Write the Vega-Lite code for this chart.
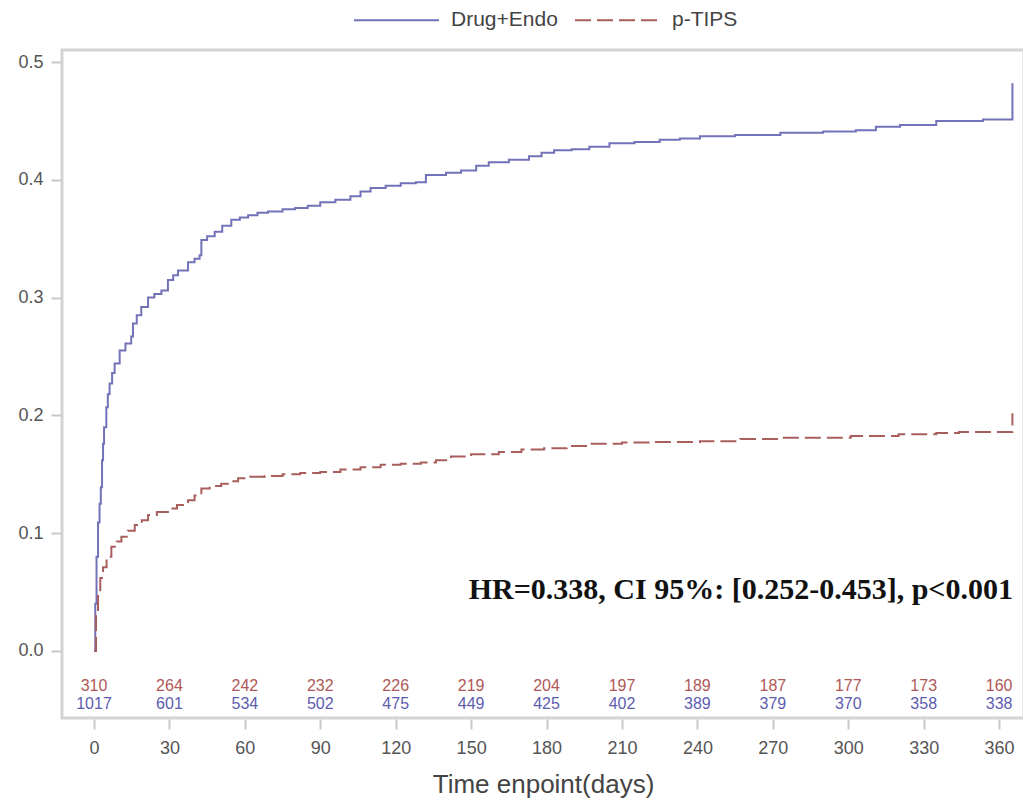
{
  "$schema": "https://vega.github.io/schema/vega-lite/v6.json",
  "width": 962,
  "height": 668,
  "autosize": {"type": "none"},
  "padding": {"left": 62, "top": 50, "right": 0, "bottom": 82},
  "background": "white",
  "config": {"view": {"stroke": "#d4d4d4", "strokeWidth": 3}, "font": "Liberation Sans"},
  "datasets": {
    "curves": [
      {"group": "Drug+Endo", "day": 0, "ci": 0},
      {"group": "Drug+Endo", "day": 0.5, "ci": 0.04},
      {"group": "Drug+Endo", "day": 1, "ci": 0.08},
      {"group": "Drug+Endo", "day": 1.6, "ci": 0.109},
      {"group": "Drug+Endo", "day": 2.2, "ci": 0.125},
      {"group": "Drug+Endo", "day": 2.7, "ci": 0.139},
      {"group": "Drug+Endo", "day": 3.2, "ci": 0.162},
      {"group": "Drug+Endo", "day": 3.6, "ci": 0.176},
      {"group": "Drug+Endo", "day": 4.0, "ci": 0.19},
      {"group": "Drug+Endo", "day": 4.9, "ci": 0.207},
      {"group": "Drug+Endo", "day": 5.5, "ci": 0.218},
      {"group": "Drug+Endo", "day": 6.2, "ci": 0.227},
      {"group": "Drug+Endo", "day": 7.2, "ci": 0.236},
      {"group": "Drug+Endo", "day": 8.2, "ci": 0.244},
      {"group": "Drug+Endo", "day": 10.2, "ci": 0.255},
      {"group": "Drug+Endo", "day": 12.5, "ci": 0.261},
      {"group": "Drug+Endo", "day": 14.8, "ci": 0.267},
      {"group": "Drug+Endo", "day": 15.5, "ci": 0.278},
      {"group": "Drug+Endo", "day": 17, "ci": 0.285},
      {"group": "Drug+Endo", "day": 18.8, "ci": 0.292},
      {"group": "Drug+Endo", "day": 21.5, "ci": 0.300},
      {"group": "Drug+Endo", "day": 24, "ci": 0.303},
      {"group": "Drug+Endo", "day": 26.8, "ci": 0.306},
      {"group": "Drug+Endo", "day": 29.4, "ci": 0.315},
      {"group": "Drug+Endo", "day": 31.5, "ci": 0.319},
      {"group": "Drug+Endo", "day": 33.4, "ci": 0.323},
      {"group": "Drug+Endo", "day": 37.4, "ci": 0.330},
      {"group": "Drug+Endo", "day": 40, "ci": 0.333},
      {"group": "Drug+Endo", "day": 42, "ci": 0.336},
      {"group": "Drug+Endo", "day": 42.7, "ci": 0.349},
      {"group": "Drug+Endo", "day": 45, "ci": 0.352},
      {"group": "Drug+Endo", "day": 48, "ci": 0.356},
      {"group": "Drug+Endo", "day": 51, "ci": 0.361},
      {"group": "Drug+Endo", "day": 54.6, "ci": 0.366},
      {"group": "Drug+Endo", "day": 58, "ci": 0.368},
      {"group": "Drug+Endo", "day": 61.3, "ci": 0.370},
      {"group": "Drug+Endo", "day": 65, "ci": 0.372},
      {"group": "Drug+Endo", "day": 69.2, "ci": 0.373},
      {"group": "Drug+Endo", "day": 75, "ci": 0.375},
      {"group": "Drug+Endo", "day": 80, "ci": 0.376},
      {"group": "Drug+Endo", "day": 85, "ci": 0.378},
      {"group": "Drug+Endo", "day": 90, "ci": 0.381},
      {"group": "Drug+Endo", "day": 96, "ci": 0.383},
      {"group": "Drug+Endo", "day": 102, "ci": 0.386},
      {"group": "Drug+Endo", "day": 106, "ci": 0.390},
      {"group": "Drug+Endo", "day": 110, "ci": 0.393},
      {"group": "Drug+Endo", "day": 116, "ci": 0.395},
      {"group": "Drug+Endo", "day": 122, "ci": 0.397},
      {"group": "Drug+Endo", "day": 128, "ci": 0.398},
      {"group": "Drug+Endo", "day": 132, "ci": 0.404},
      {"group": "Drug+Endo", "day": 140, "ci": 0.406},
      {"group": "Drug+Endo", "day": 146, "ci": 0.408},
      {"group": "Drug+Endo", "day": 152, "ci": 0.412},
      {"group": "Drug+Endo", "day": 157, "ci": 0.415},
      {"group": "Drug+Endo", "day": 165, "ci": 0.417},
      {"group": "Drug+Endo", "day": 173, "ci": 0.420},
      {"group": "Drug+Endo", "day": 178, "ci": 0.423},
      {"group": "Drug+Endo", "day": 183, "ci": 0.425},
      {"group": "Drug+Endo", "day": 190, "ci": 0.426},
      {"group": "Drug+Endo", "day": 197, "ci": 0.428},
      {"group": "Drug+Endo", "day": 205, "ci": 0.431},
      {"group": "Drug+Endo", "day": 215, "ci": 0.432},
      {"group": "Drug+Endo", "day": 225, "ci": 0.434},
      {"group": "Drug+Endo", "day": 233, "ci": 0.435},
      {"group": "Drug+Endo", "day": 241, "ci": 0.437},
      {"group": "Drug+Endo", "day": 255, "ci": 0.438},
      {"group": "Drug+Endo", "day": 273, "ci": 0.440},
      {"group": "Drug+Endo", "day": 290, "ci": 0.441},
      {"group": "Drug+Endo", "day": 303, "ci": 0.442},
      {"group": "Drug+Endo", "day": 311, "ci": 0.445},
      {"group": "Drug+Endo", "day": 320.6, "ci": 0.4465},
      {"group": "Drug+Endo", "day": 335, "ci": 0.450},
      {"group": "Drug+Endo", "day": 353.6, "ci": 0.4513},
      {"group": "Drug+Endo", "day": 365.3, "ci": 0.482},
      {"group": "p-TIPS", "day": 0, "ci": 0},
      {"group": "p-TIPS", "day": 0.8, "ci": 0.03},
      {"group": "p-TIPS", "day": 1.6, "ci": 0.049},
      {"group": "p-TIPS", "day": 2.5, "ci": 0.062},
      {"group": "p-TIPS", "day": 3.6, "ci": 0.071},
      {"group": "p-TIPS", "day": 5, "ci": 0.080},
      {"group": "p-TIPS", "day": 6.9, "ci": 0.0885},
      {"group": "p-TIPS", "day": 9, "ci": 0.093},
      {"group": "p-TIPS", "day": 10.9, "ci": 0.097},
      {"group": "p-TIPS", "day": 13.5, "ci": 0.102},
      {"group": "p-TIPS", "day": 16.2, "ci": 0.107},
      {"group": "p-TIPS", "day": 19, "ci": 0.111},
      {"group": "p-TIPS", "day": 21.5, "ci": 0.1155},
      {"group": "p-TIPS", "day": 25, "ci": 0.118},
      {"group": "p-TIPS", "day": 29.4, "ci": 0.121},
      {"group": "p-TIPS", "day": 33, "ci": 0.124},
      {"group": "p-TIPS", "day": 37.4, "ci": 0.128},
      {"group": "p-TIPS", "day": 40, "ci": 0.132},
      {"group": "p-TIPS", "day": 42.7, "ci": 0.138},
      {"group": "p-TIPS", "day": 46, "ci": 0.140},
      {"group": "p-TIPS", "day": 50.6, "ci": 0.142},
      {"group": "p-TIPS", "day": 54, "ci": 0.144},
      {"group": "p-TIPS", "day": 57.3, "ci": 0.1466},
      {"group": "p-TIPS", "day": 62, "ci": 0.148},
      {"group": "p-TIPS", "day": 67.9, "ci": 0.1486},
      {"group": "p-TIPS", "day": 75, "ci": 0.150},
      {"group": "p-TIPS", "day": 82, "ci": 0.151},
      {"group": "p-TIPS", "day": 90, "ci": 0.152},
      {"group": "p-TIPS", "day": 98, "ci": 0.154},
      {"group": "p-TIPS", "day": 106, "ci": 0.156},
      {"group": "p-TIPS", "day": 114, "ci": 0.158},
      {"group": "p-TIPS", "day": 122, "ci": 0.159},
      {"group": "p-TIPS", "day": 130, "ci": 0.160},
      {"group": "p-TIPS", "day": 136, "ci": 0.162},
      {"group": "p-TIPS", "day": 142, "ci": 0.165},
      {"group": "p-TIPS", "day": 150, "ci": 0.167},
      {"group": "p-TIPS", "day": 161, "ci": 0.169},
      {"group": "p-TIPS", "day": 170, "ci": 0.171},
      {"group": "p-TIPS", "day": 179, "ci": 0.172},
      {"group": "p-TIPS", "day": 188, "ci": 0.174},
      {"group": "p-TIPS", "day": 197, "ci": 0.176},
      {"group": "p-TIPS", "day": 210, "ci": 0.177},
      {"group": "p-TIPS", "day": 221, "ci": 0.1775},
      {"group": "p-TIPS", "day": 241, "ci": 0.178},
      {"group": "p-TIPS", "day": 257, "ci": 0.180},
      {"group": "p-TIPS", "day": 273, "ci": 0.181},
      {"group": "p-TIPS", "day": 301, "ci": 0.1825},
      {"group": "p-TIPS", "day": 320, "ci": 0.184},
      {"group": "p-TIPS", "day": 335, "ci": 0.185},
      {"group": "p-TIPS", "day": 344, "ci": 0.186},
      {"group": "p-TIPS", "day": 365.3, "ci": 0.2018}
    ],
    "risk": [
      {"group": "p-TIPS", "day": 0, "n": "310"},
      {"group": "p-TIPS", "day": 30, "n": "264"},
      {"group": "p-TIPS", "day": 60, "n": "242"},
      {"group": "p-TIPS", "day": 90, "n": "232"},
      {"group": "p-TIPS", "day": 120, "n": "226"},
      {"group": "p-TIPS", "day": 150, "n": "219"},
      {"group": "p-TIPS", "day": 180, "n": "204"},
      {"group": "p-TIPS", "day": 210, "n": "197"},
      {"group": "p-TIPS", "day": 240, "n": "189"},
      {"group": "p-TIPS", "day": 270, "n": "187"},
      {"group": "p-TIPS", "day": 300, "n": "177"},
      {"group": "p-TIPS", "day": 330, "n": "173"},
      {"group": "p-TIPS", "day": 360, "n": "160"},
      {"group": "Drug+Endo", "day": 0, "n": "1017"},
      {"group": "Drug+Endo", "day": 30, "n": "601"},
      {"group": "Drug+Endo", "day": 60, "n": "534"},
      {"group": "Drug+Endo", "day": 90, "n": "502"},
      {"group": "Drug+Endo", "day": 120, "n": "475"},
      {"group": "Drug+Endo", "day": 150, "n": "449"},
      {"group": "Drug+Endo", "day": 180, "n": "425"},
      {"group": "Drug+Endo", "day": 210, "n": "402"},
      {"group": "Drug+Endo", "day": 240, "n": "389"},
      {"group": "Drug+Endo", "day": 270, "n": "379"},
      {"group": "Drug+Endo", "day": 300, "n": "370"},
      {"group": "Drug+Endo", "day": 330, "n": "358"},
      {"group": "Drug+Endo", "day": 360, "n": "338"}
    ]
  },
  "layer": [
    {
      "data": {"name": "curves"},
      "mark": {"type": "line", "interpolate": "step-after", "strokeWidth": 2},
      "encoding": {
        "x": {
          "field": "day", "type": "quantitative",
          "scale": {"domain": [-12.73, 369.9], "nice": false, "zero": false},
          "axis": {
            "values": [0, 30, 60, 90, 120, 150, 180, 210, 240, 270, 300, 330, 360],
            "grid": false, "domain": false,
            "tickColor": "#c8c8c8", "tickWidth": 2, "tickSize": 10, "offset": 1,
            "labelFontSize": 18, "labelColor": "#555", "labelPadding": 10,
            "title": "Time enpoint(days)", "titleFontSize": 26, "titleFontWeight": "normal",
            "titleColor": "#444", "titlePadding": 14
          }
        },
        "y": {
          "field": "ci", "type": "quantitative",
          "scale": {"domain": [-0.0569, 0.5102], "nice": false, "zero": false},
          "axis": {
            "values": [0, 0.1, 0.2, 0.3, 0.4, 0.5], "format": ".1f",
            "grid": false, "domain": false,
            "tickColor": "#c8c8c8", "tickWidth": 2, "tickSize": 10, "offset": 1,
            "labelFontSize": 18, "labelColor": "#555", "labelPadding": 8,
            "title": null
          }
        },
        "color": {
          "field": "group", "type": "nominal",
          "scale": {"domain": ["Drug+Endo", "p-TIPS"], "range": ["#7272b8", "#a85e5c"]},
          "legend": {
            "title": null, "orient": "none", "legendX": 291, "legendY": -73.5,
            "direction": "horizontal", "symbolType": "stroke", "symbolSize": 7225,
            "symbolStrokeWidth": 2, "labelFontSize": 21, "labelColor": "#444",
            "labelOffset": 11, "columnPadding": 13, "padding": 0
          }
        },
        "strokeDash": {
          "field": "group", "type": "nominal",
          "scale": {"domain": ["Drug+Endo", "p-TIPS"], "range": [[1, 0], [16, 6]]},
          "legend": {
            "title": null, "orient": "none", "legendX": 291, "legendY": -73.5,
            "direction": "horizontal", "symbolType": "stroke", "symbolSize": 7225,
            "symbolStrokeWidth": 2, "labelFontSize": 21, "labelColor": "#444",
            "labelOffset": 11, "columnPadding": 13, "padding": 0
          }
        }
      }
    },
    {
      "data": {"name": "risk"},
      "transform": [{"filter": "datum.group === 'p-TIPS'"}],
      "mark": {"type": "text", "fontSize": 16, "color": "#b05858"},
      "encoding": {
        "x": {"field": "day", "type": "quantitative"},
        "y": {"datum": -0.0297},
        "text": {"field": "n"}
      }
    },
    {
      "data": {"name": "risk"},
      "transform": [{"filter": "datum.group === 'Drug+Endo'"}],
      "mark": {"type": "text", "fontSize": 16, "color": "#5c5cb0"},
      "encoding": {
        "x": {"field": "day", "type": "quantitative"},
        "y": {"datum": -0.045},
        "text": {"field": "n"}
      }
    },
    {
      "data": {"values": [{}]},
      "mark": {"type": "text", "text": "HR=0.338, CI 95%: [0.252-0.453], p<0.001", "font": "Liberation Serif", "fontWeight": "bold", "fontSize": 30, "align": "right", "color": "#111"},
      "encoding": {
        "x": {"datum": 365.5},
        "y": {"datum": 0.0518}
      }
    }
  ]
}
